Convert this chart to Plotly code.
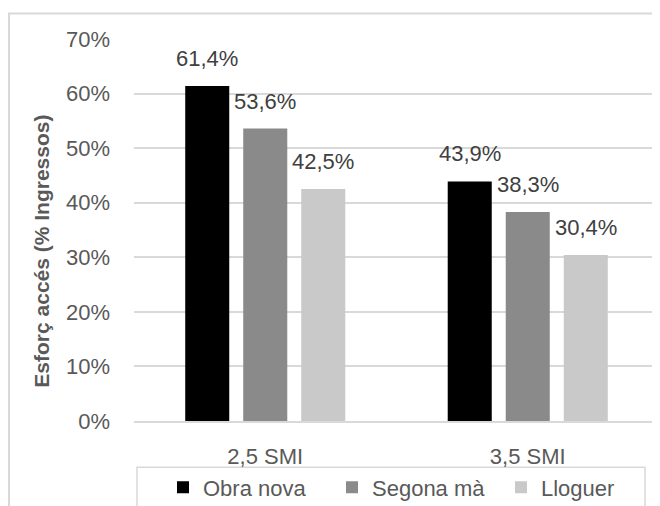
import plotly.graph_objects as go

categories = ["2,5 SMI", "3,5 SMI"]
series_names = ["Obra nova", "Segona mà", "Lloguer"]
obra_nova = [61.4, 43.9]
segona_ma = [53.6, 38.3]
lloguer = [42.5, 30.4]
y_ticks = [0, 10, 20, 30, 40, 50, 60, 70]
y_title = "Esforç accés (% Ingressos)"

colors = ["#000000", "#8a8a8a", "#c9c9c9"]
FONT = "Liberation Sans, Arial, sans-serif"
FS = 22
TXT = "#595959"

# the page body adds an 8px offset; size the figure so it fits the 660x506 window
OFF = 8
W, H = 660 - OFF, 506 - OFF
PLOT_L, PLOT_R, PLOT_T, PLOT_B = 134, 659, 39, 420.7  # page pixels
ML = PLOT_L - OFF
MR = W - (PLOT_R - OFF)
MT = PLOT_T - OFF
MB = H - (PLOT_B - OFF)
plot_w = PLOT_R - PLOT_L
plot_h = PLOT_B - PLOT_T
BARGAP = 0.337
BARGROUPGAP = 0.241

fig = go.Figure()
all_series = [obra_nova, segona_ma, lloguer]
for name, vals, c in zip(series_names, all_series, colors):
    fig.add_trace(go.Bar(x=categories, y=vals, name=name, marker=dict(color=c, line=dict(width=0))))

# data labels
cat_px = plot_w / len(categories)
slot_px = cat_px * (1 - BARGAP) / len(all_series)
for i, vals in enumerate(all_series):
    for cat, v in zip(categories, vals):
        fig.add_annotation(
            x=cat, y=v, xref="x", yref="y",
            text=f"{v:.1f}%".replace(".", ","),
            showarrow=False, yanchor="bottom",
            xshift=(i - 1) * slot_px, yshift=13,
            font=dict(family=FONT, size=FS, color="#404040"),
        )

def px_x(px):
    return (px - PLOT_L) / plot_w

def px_y(py):
    return (PLOT_B - py) / plot_h

fig.add_annotation(
    text=y_title, textangle=-90, showarrow=False,
    xref="paper", yref="paper", x=px_x(42), y=px_y(251.5),
    xanchor="center", yanchor="middle",
    font=dict(family=FONT, size=21, color=TXT, weight="bold"),
)

# outer chart border
fig.add_shape(
    type="rect", xref="paper", yref="paper",
    x0=px_x(9), x1=px_x(720), y0=px_y(13.5), y1=px_y(560),
    line=dict(color="#d9d9d9", width=2), layer="below",
)
# legend border
fig.add_shape(
    type="rect", xref="paper", yref="paper",
    x0=px_x(137), x1=px_x(645), y0=px_y(467), y1=px_y(540),
    line=dict(color="#d9d9d9", width=1.5), layer="below",
)

fig.update_layout(
    width=W, height=H,
    margin=dict(l=ML, r=MR, t=MT, b=MB, pad=0, autoexpand=False),
    paper_bgcolor="white", plot_bgcolor="white",
    barmode="group", bargap=BARGAP, bargroupgap=BARGROUPGAP,
    font=dict(family=FONT, size=FS, color=TXT),
    showlegend=True,
    legend=dict(
        orientation="h", x=px_x(163), xanchor="left", y=px_y(466), yanchor="top",
        borderwidth=0, bgcolor="rgba(0,0,0,0)",
        font=dict(family=FONT, size=FS, color=TXT),
        itemwidth=30, traceorder="normal", entrywidth=124, entrywidthmode="pixels",
    ),
    xaxis=dict(
        type="category", showgrid=False, showline=True, linecolor="#d9d9d9", linewidth=1.5,
        ticks="", ticklabelstandoff=15, tickfont=dict(family=FONT, size=FS, color=TXT),
    ),
    yaxis=dict(
        range=[0, 70], tickvals=y_ticks, ticktext=[f"{t}%" for t in y_ticks],
        showgrid=True, gridcolor="#d9d9d9", gridwidth=1.5, zeroline=False, showline=False,
        ticks="", ticklabelstandoff=23, tickfont=dict(family=FONT, size=FS, color=TXT),
    ),
)

fig.write_html("out.html")
